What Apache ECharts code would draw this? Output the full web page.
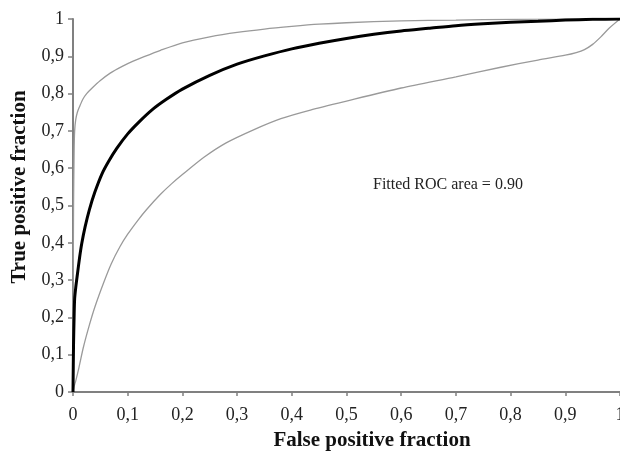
<!DOCTYPE html>
<html>
<head>
<meta charset="utf-8">
<script src="https://cdn.jsdelivr.net/npm/echarts@6/dist/echarts.min.js"></script>
<style>
  html, body { margin: 0; padding: 0; background: #fff; }
  #chart { width: 620px; height: 454px; }
</style>
</head>
<body>
<div id="chart"></div>
<script>
// 数据
const tickLabels = ['0', '0,1', '0,2', '0,3', '0,4', '0,5', '0,6', '0,7', '0,8', '0,9', '1'];

// 拟合 ROC 曲线 [FPF, TPF]
const fittedRoc = [
  [0, 0], [0.001, 0.13], [0.002, 0.2], [0.003, 0.25], [0.005, 0.28], [0.008, 0.315],
  [0.012, 0.36], [0.016, 0.398], [0.022, 0.442], [0.03, 0.489], [0.04, 0.536],
  [0.053, 0.585], [0.065, 0.618], [0.08, 0.653], [0.1, 0.692], [0.12, 0.723],
  [0.145, 0.757], [0.17, 0.784], [0.2, 0.812], [0.25, 0.849], [0.3, 0.879],
  [0.35, 0.901], [0.4, 0.92], [0.45, 0.935], [0.5, 0.948], [0.55, 0.959],
  [0.6, 0.968], [0.65, 0.975], [0.7, 0.982], [0.75, 0.987], [0.8, 0.991],
  [0.85, 0.994], [0.9, 0.997], [0.95, 0.999], [1, 1]
];

// 上置信界
const upperBound = [
  [0, 0], [0.0005, 0.3], [0.001, 0.5], [0.002, 0.64], [0.003, 0.7], [0.005, 0.73],
  [0.008, 0.75], [0.012, 0.765], [0.018, 0.785], [0.025, 0.8], [0.035, 0.815],
  [0.05, 0.835], [0.068, 0.855], [0.09, 0.873], [0.11, 0.887], [0.13, 0.899],
  [0.16, 0.916], [0.2, 0.936], [0.25, 0.952], [0.3, 0.964], [0.35, 0.973],
  [0.4, 0.98], [0.45, 0.986], [0.5, 0.99], [0.6, 0.995], [0.7, 0.997],
  [0.8, 0.999], [1, 1]
];

// 下置信界
const lowerBound = [
  [0, 0], [0.002, 0.015], [0.005, 0.03], [0.01, 0.06], [0.019, 0.12], [0.03, 0.18],
  [0.04, 0.228], [0.056, 0.293], [0.07, 0.344], [0.086, 0.39], [0.1, 0.423],
  [0.12, 0.463], [0.135, 0.49], [0.16, 0.53], [0.18, 0.558], [0.2, 0.583],
  [0.24, 0.63], [0.28, 0.668], [0.33, 0.703], [0.38, 0.733], [0.434, 0.756],
  [0.5, 0.78], [0.6, 0.815], [0.7, 0.845], [0.78, 0.87], [0.85, 0.89],
  [0.9, 0.903], [0.92, 0.91], [0.935, 0.918], [0.95, 0.932], [0.965, 0.952],
  [0.98, 0.975], [1, 1]
];

const serif = '"Liberation Serif", "DejaVu Serif", serif';
const axisColor = '#808080';

const chart = echarts.init(document.getElementById('chart'));

const tickLabel = (v) => tickLabels[Math.round(v * 10)];

const option = {
  animation: false,
  backgroundColor: '#fff',
  grid: { left: 73, right: 0, top: 19, bottom: 62, outerBoundsMode: 'none' },
  xAxis: {
    type: 'value',
    min: 0,
    max: 1,
    interval: 0.1,
    splitLine: { show: false },
    axisLine: { lineStyle: { color: axisColor, width: 2 } },
    axisTick: { show: true, length: 4, lineStyle: { color: axisColor, width: 1.5 } },
    axisLabel: {
      margin: 14,
      color: '#222',
      fontFamily: serif,
      fontSize: 18,
      hideOverlap: false,
      formatter: tickLabel,
    },
  },
  yAxis: {
    type: 'value',
    min: 0,
    max: 1,
    interval: 0.1,
    splitLine: { show: false },
    axisLine: { show: true, lineStyle: { color: axisColor, width: 2 } },
    axisTick: { show: true, length: 5, lineStyle: { color: axisColor, width: 1.5 } },
    axisLabel: {
      margin: 9,
      color: '#222',
      fontFamily: serif,
      fontSize: 18,
      formatter: tickLabel,
    },
  },
  graphic: [
    {
      type: 'text',
      x: 20,
      y: 187,
      rotation: Math.PI / 2,
      style: {
        text: 'True positive fraction',
        font: 'bold 21px ' + serif,
        fill: '#111',
        align: 'center',
        verticalAlign: 'middle',
      },
    },
    {
      type: 'text',
      x: 372,
      y: 441,
      style: {
        text: 'False positive fraction',
        font: 'bold 21px ' + serif,
        fill: '#111',
        align: 'center',
        verticalAlign: 'middle',
      },
    },
    {
      type: 'text',
      x: 373,
      y: 185,
      style: {
        text: 'Fitted ROC area = 0.90',
        font: '16px ' + serif,
        fill: '#222',
        align: 'left',
        verticalAlign: 'middle',
      },
    },
  ],
  series: [
    {
      name: 'upper',
      type: 'line',
      data: upperBound,
      showSymbol: false,
      smooth: 0.25,
      lineStyle: { color: '#9a9a9a', width: 1.3 },
    },
    {
      name: 'lower',
      type: 'line',
      data: lowerBound,
      showSymbol: false,
      smooth: 0.25,
      lineStyle: { color: '#9a9a9a', width: 1.3 },
    },
    {
      name: 'fitted',
      type: 'line',
      data: fittedRoc,
      showSymbol: false,
      smooth: 0.25,
      z: 3,
      lineStyle: { color: '#000', width: 3 },
    },
  ],
};

chart.setOption(option);
</script>
</body>
</html>
